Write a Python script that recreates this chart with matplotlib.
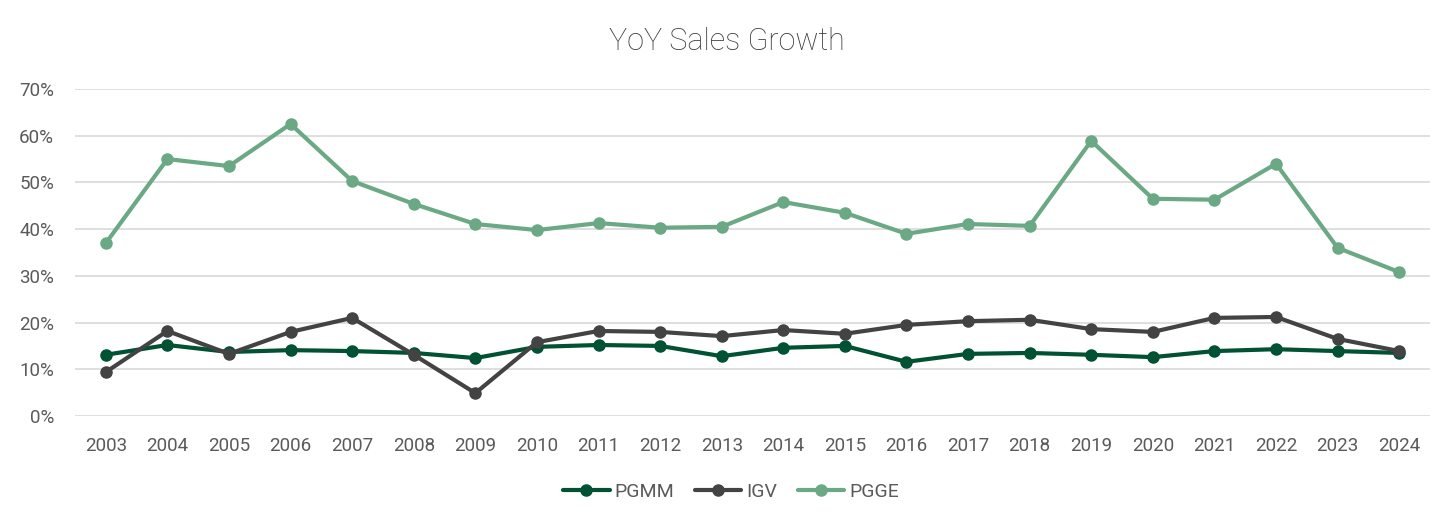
import matplotlib
matplotlib.use("Agg")
import matplotlib.pyplot as plt
from matplotlib.ticker import PercentFormatter

years = [str(y) for y in range(2003, 2025)]
pgmm = [13.1, 15.2, 13.7, 14.1, 13.9, 13.5, 12.4, 14.8, 15.2, 15.0, 12.8, 14.6, 15.0, 11.6, 13.3, 13.5, 13.1, 12.6, 13.9, 14.3, 13.9, 13.5]
igv = [9.4, 18.2, 13.3, 18.0, 21.0, 13.1, 4.9, 15.8, 18.2, 18.0, 17.1, 18.4, 17.6, 19.5, 20.3, 20.6, 18.6, 18.0, 21.0, 21.2, 16.5, 13.9]
pgge = [37.0, 55.0, 53.5, 62.5, 50.3, 45.4, 41.1, 39.8, 41.3, 40.3, 40.5, 45.8, 43.5, 39.0, 41.1, 40.7, 58.9, 46.5, 46.3, 54.0, 36.0, 30.8]

series = [("PGMM", pgmm, "#005232"), ("IGV", igv, "#434343"), ("PGGE", pgge, "#6aa984")]

plt.rcParams['font.family'] = ['Roboto', 'DejaVu Sans']
txt = "#5a5a5a"

fig = plt.figure(figsize=(14.56, 5.28), dpi=100)
ax = fig.add_axes([75/1456, 1 - 416/528, (1430-75)/1456, (416-89)/528])

x = list(range(len(years)))
for name, vals, col in series:
    ax.plot(x, vals, color=col, lw=3.0, marker='o', ms=8, label=name, solid_capstyle='round')

ax.set_xlim(-0.5, len(years) - 0.5)
ax.set_ylim(0, 70)
ax.set_yticks(range(0, 71, 10))
ax.yaxis.set_major_formatter(PercentFormatter(decimals=0))
ax.set_xticks(x)
ax.set_xticklabels(years)
ax.grid(axis='y', color='#d9d9d9', lw=1.2)
ax.set_axisbelow(True)
for s in ax.spines.values():
    s.set_visible(False)
ax.tick_params(axis='both', length=0, labelsize=13.5, colors=txt)
ax.tick_params(axis='x', pad=15)
ax.tick_params(axis='y', pad=15)

fig.text(727/1456, 1 - 42/528, "YoY Sales Growth", ha='center', va='center', fontsize=22,
         color="#3a3a3a", fontweight='light')

leg = fig.legend(loc='center', bbox_to_anchor=(731/1456, 1 - 492/528), ncol=3, frameon=False,
                 fontsize=14, handlelength=2.4, columnspacing=1.05, handletextpad=0.25)
for t in leg.get_texts():
    t.set_color(txt)

fig.savefig("out.png", dpi=100)
